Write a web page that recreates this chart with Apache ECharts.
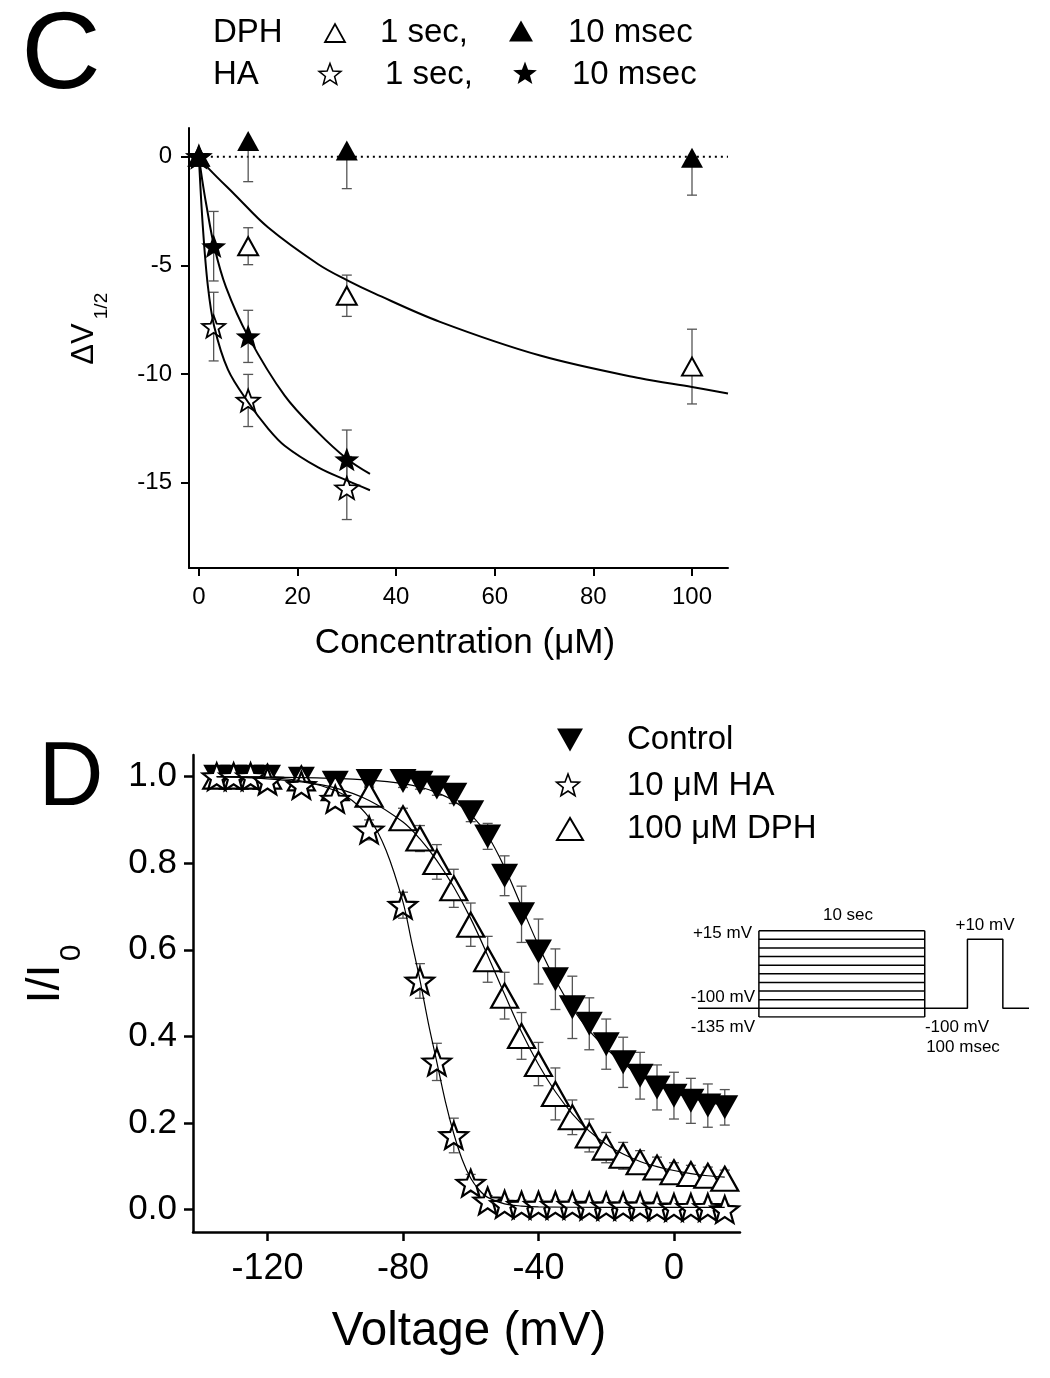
<!DOCTYPE html>
<html><head><meta charset="utf-8">
<script src="https://cdn.jsdelivr.net/npm/echarts@6/dist/echarts.min.js"></script>
<style>html,body{margin:0;padding:0;background:#fff}#chart{width:1050px;height:1378px}</style>
</head><body><div id="chart"></div>
<script>
// ---------- Panel C data (ΔV1/2 vs concentration) ----------
const concDPH = [0, 10, 30, 100];
const dph1sMean = [0, -4.12, -6.40, -9.66];
const dph1sErr = [0, 0.85, 0.95, 1.72];
const dph10msMean = [0, 0.72, 0.28, -0.05];
const dph10msErrDown = [0, 1.87, 1.75, 1.72];
const concHA = [0, 3, 10, 30];
const ha1sMean = [0, -7.82, -11.22, -15.25];
const ha1sErr = [0, 1.58, 1.2, 1.45];
const ha10msMean = [0, -4.12, -8.27, -13.93];
const ha10msErr = [0, 1.6, 1.2, 1.35];
// fitted curves
const dphFitX = [0, 2, 7.3, 14, 24.2, 30, 35.7, 48.9, 69.2, 89.5, 100, 107.3];
const dphFitY = [0, -0.55, -1.75, -3.25, -4.95, -5.68, -6.3, -7.6, -9.15, -10.2, -10.6, -10.9];
const ha10FitX = [0, 0.7, 1.5, 3.1, 5.5, 10, 17.4, 24.2, 30, 34.7];
const ha10FitY = [0, -1.1, -2.2, -4.12, -6.0, -8.27, -11.0, -12.7, -13.9, -14.6];
const ha1FitX = [0, 0.8, 1.8, 3.1, 5.9, 10, 14, 17.4, 24.2, 30, 34.7];
const ha1FitY = [0, -3.2, -5.9, -7.8, -9.8, -11.3, -12.5, -13.3, -14.3, -14.9, -15.35];
const zeroLineX = [0, 107.3];
const cTicksX = [0, 20, 40, 60, 80, 100];
const cTicksY = [0, -5, -10, -15];

// ---------- Panel D data (I/I0 vs voltage) ----------
const voltages = [-135,-130,-125,-120,-110,-100,-90,-80,-75,-70,-65,-60,-55,-50,-45,-40,-35,-30,-25,-20,-15,-10,-5,0,5,10,15];
const controlI = [1.0,1.0,1.0,1.0,0.995,0.986,0.99,0.99,0.986,0.975,0.958,0.918,0.862,0.771,0.682,0.596,0.532,0.467,0.429,0.382,0.34,0.309,0.282,0.263,0.251,0.24,0.236];
const controlErr = [0.01,0.01,0.01,0.012,0.012,0.015,0.015,0.015,0.015,0.018,0.02,0.022,0.03,0.046,0.065,0.075,0.07,0.072,0.06,0.058,0.058,0.054,0.052,0.054,0.052,0.05,0.041];
const haI = [1.0,1.0,1.0,0.99,0.98,0.948,0.877,0.703,0.528,0.341,0.171,0.061,0.02,0.012,0.01,0.01,0.01,0.01,0.008,0.008,0.008,0.008,0.006,0.005,0.005,0.005,0.0];
const haErr = [0.01,0.01,0.01,0.012,0.015,0.02,0.023,0.03,0.04,0.043,0.04,0.02,0.012,0.012,0.012,0.012,0.012,0.012,0.012,0.012,0.012,0.012,0.012,0.012,0.012,0.012,0.012];
const dphI = [1.0,1.0,1.0,1.0,0.996,0.973,0.958,0.904,0.857,0.803,0.742,0.658,0.578,0.494,0.401,0.336,0.267,0.213,0.171,0.143,0.124,0.109,0.097,0.086,0.082,0.078,0.071];
const dphErr = [0.01,0.01,0.01,0.01,0.01,0.015,0.02,0.023,0.03,0.04,0.044,0.05,0.053,0.054,0.054,0.05,0.06,0.04,0.038,0.035,0.031,0.027,0.024,0.022,0.02,0.02,0.02];
// fitted curves
const haFitV = [-135,-120,-110,-100,-95,-90,-85,-80,-77.5,-75,-72.5,-70,-67.5,-65,-62.5,-60,-57.5,-55,-50,-45,-40,-20,0,15];
const haFitI = [1.0,0.998,0.99,0.968,0.945,0.905,0.83,0.71,0.62,0.53,0.43,0.34,0.25,0.175,0.115,0.072,0.045,0.028,0.013,0.008,0.006,0.005,0.005,0.005];
const ctrlFitV = [-135,-120,-100,-90,-80,-75,-70,-65,-60,-55,-50,-45,-40,-35,-30,-25,-20,-15,-10,-5,0,5,10,15];
const ctrlFitI = [1.0,0.999,0.996,0.992,0.984,0.976,0.963,0.944,0.913,0.864,0.79,0.70,0.61,0.53,0.465,0.413,0.372,0.338,0.31,0.288,0.27,0.258,0.248,0.241];
const dphFitV = [-135,-120,-110,-100,-90,-80,-75,-70,-65,-60,-55,-50,-45,-40,-35,-30,-25,-20,-15,-10,-5,0,5,10,15];
const dphFitI = [1.0,0.995,0.988,0.974,0.945,0.895,0.856,0.806,0.745,0.672,0.587,0.497,0.41,0.335,0.272,0.221,0.181,0.151,0.128,0.111,0.099,0.09,0.083,0.078,0.075];
const dTicksX = [-120, -80, -40, 0];
const dTicksY = [0, 0.2, 0.4, 0.6, 0.8, 1.0];

// ---------- Inset protocol (schematic units) ----------
const protoLevels = [15, 0, -15, -30, -45, -60, -75, -90, -105, -120, -135];
const protoHoldDrawn = -120;   // labelled -100 mV
const protoPulseDrawn = 0;     // labelled +10 mV
const protoT = {start: 0, stepOn: 18.4, stepOff: 68.5, pulseOn: 81.4, pulseOff: 92.1, end: 100};

const FONT = 'Liberation Sans';
const starPath = 'path://M0,-100L24.7,-34L95.1,-30.9L39.9,13L58.8,80.9L0,42L-58.8,80.9L-39.9,13L-95.1,-30.9L-24.7,-34Z';
const zip = (a, b) => a.map((v, i) => [v, b[i]]);

function errSeries(xs, means, lo, hi, gi, capW, lw) {
  const data = [];
  xs.forEach((x, i) => {
    if (lo[i] > 0 || hi[i] > 0) data.push([x, means[i] - lo[i], means[i] + hi[i], lo[i] > 0 ? 1 : 0, hi[i] > 0 ? 1 : 0]);
  });
  return {
    type: 'custom', xAxisIndex: gi, yAxisIndex: gi, z: 2, silent: true,
    encode: {x: 0, y: [1, 2]}, data,
    renderItem(params, api) {
      const x = api.value(0);
      const p1 = api.coord([x, api.value(1)]), p2 = api.coord([x, api.value(2)]);
      const st = {stroke: '#555', lineWidth: lw, fill: null};
      const ch = [{type: 'line', shape: {x1: p1[0], y1: p1[1], x2: p2[0], y2: p2[1]}, style: st}];
      if (api.value(3)) ch.push({type: 'line', shape: {x1: p1[0] - capW / 2, y1: p1[1], x2: p1[0] + capW / 2, y2: p1[1]}, style: st});
      if (api.value(4)) ch.push({type: 'line', shape: {x1: p2[0] - capW / 2, y1: p2[1], x2: p2[0] + capW / 2, y2: p2[1]}, style: st});
      return {type: 'group', children: ch};
    }
  };
}
const sym = (arr, v) => arr.map(() => v);

function scatter(xs, ys, gi, symbol, size, fill, bw, rot) {
  return {type: 'scatter', xAxisIndex: gi, yAxisIndex: gi, z: 3, data: zip(xs, ys),
    symbol, symbolSize: size, symbolKeepAspect: true, symbolRotate: rot || 0,
    itemStyle: {color: fill, borderColor: '#000', borderWidth: bw, opacity: 1}, silent: true};
}
function fitLine(xs, ys, gi, w) {
  return {type: 'line', xAxisIndex: gi, yAxisIndex: gi, z: 4, data: zip(xs, ys), smooth: 0.35,
    showSymbol: false, lineStyle: {color: '#000', width: w}, silent: true};
}
function seg(x1, y1, x2, y2) {
  return {type: 'line', xAxisIndex: 2, yAxisIndex: 2, data: [[x1, y1], [x2, y2]], showSymbol: false,
    lineStyle: {color: '#000', width: 1.5}, silent: true, z: 3};
}

const series = [];
// Panel C
series.push({type: 'line', xAxisIndex: 0, yAxisIndex: 0, data: zeroLineX.map(x => [x, 0]), showSymbol: false,
  lineStyle: {color: '#000', width: 2, type: [2, 4]}, silent: true, z: 1});
series.push(errSeries(concDPH, dph1sMean, dph1sErr, dph1sErr, 0, 10, 1.3));
series.push(errSeries(concDPH, dph10msMean, dph10msErrDown, sym(concDPH, 0), 0, 10, 1.3));
series.push(errSeries(concHA, ha1sMean, ha1sErr, ha1sErr, 0, 10, 1.3));
series.push(errSeries(concHA, ha10msMean, ha10msErr, ha10msErr, 0, 10, 1.3));
series.push(fitLine(dphFitX, dphFitY, 0, 2));
series.push(fitLine(ha10FitX, ha10FitY, 0, 2));
series.push(fitLine(ha1FitX, ha1FitY, 0, 2));
series.push(scatter(concDPH, dph1sMean, 0, 'triangle', [20, 18], '#fff', 2));
series.push(scatter(concDPH, dph10msMean, 0, 'triangle', [22, 20], '#000', 0));
series.push(scatter(concHA, ha1sMean, 0, starPath, 23, '#fff', 1.8));
series.push(scatter(concHA, ha10msMean, 0, starPath, 25, '#000', 0));
// Panel D
series.push(errSeries(voltages, controlI, controlErr, controlErr, 1, 10, 1.3));
series.push(errSeries(voltages, dphI, dphErr, dphErr, 1, 10, 1.3));
series.push(errSeries(voltages, haI, haErr, haErr, 1, 10, 1.3));
series.push(scatter(voltages, controlI, 1, 'triangle', [27, 24], '#000', 0, 180));
series.push(scatter(voltages, dphI, 1, 'triangle', [27, 24], '#fff', 2.2));
series.push(scatter(voltages, haI, 1, starPath, 28, '#fff', 2.2));
series.push(fitLine(ctrlFitV, ctrlFitI, 1, 1.2));
series.push(fitLine(dphFitV, dphFitI, 1, 1.2));
series.push(fitLine(haFitV, haFitI, 1, 1.2));
// Inset protocol
protoLevels.forEach(L => series.push(seg(protoT.stepOn, L, protoT.stepOff, L)));
const topL = Math.max(...protoLevels), botL = Math.min(...protoLevels);
series.push(seg(protoT.stepOn, botL, protoT.stepOn, topL));
series.push(seg(protoT.stepOff, botL, protoT.stepOff, topL));
series.push(seg(protoT.start, protoHoldDrawn, protoT.stepOn, protoHoldDrawn));
series.push({type: 'line', xAxisIndex: 2, yAxisIndex: 2, showSymbol: false, silent: true, z: 3,
  lineStyle: {color: '#000', width: 1.5},
  data: [[protoT.stepOff, protoHoldDrawn], [protoT.pulseOn, protoHoldDrawn], [protoT.pulseOn, protoPulseDrawn],
         [protoT.pulseOff, protoPulseDrawn], [protoT.pulseOff, protoHoldDrawn], [protoT.end, protoHoldDrawn]]});

function axisBase(min, max, ticks, fs, lw, tickLen, margin, fmt) {
  return {type: 'value', min, max, splitLine: {show: false},
    axisLine: {show: true, onZero: false, lineStyle: {color: '#000', width: lw}},
    axisTick: {show: true, length: tickLen, customValues: ticks, lineStyle: {color: '#000', width: lw}},
    axisLabel: {customValues: ticks, fontSize: fs, fontFamily: FONT, color: '#000', margin, formatter: fmt}};
}
const xAxis = [
  Object.assign(axisBase(-2, 107.3, cTicksX, 24, 2, 8, 17), {gridIndex: 0}),
  Object.assign(axisBase(-142, 19.5, dTicksX, 36, 2.5, 9, 19), {gridIndex: 1}),
  {gridIndex: 2, type: 'value', min: 0, max: 100, show: false}
];
const yAxis = [
  Object.assign(axisBase(-18.93, 1.32, cTicksY, 24, 2, 8, 17), {gridIndex: 0}),
  Object.assign(axisBase(-0.052, 1.05, dTicksY, 35, 2.5, 9, 16, v => v.toFixed(1)), {gridIndex: 1}),
  {gridIndex: 2, type: 'value', min: -135, max: 15, show: false}
];

function txt(x, y, s, fs, align, opts) {
  return Object.assign({type: 'text', x, y, silent: true, z: 10,
    style: {text: s, fontSize: fs, fontFamily: FONT, fill: '#000', align: align || 'left', verticalAlign: 'middle'}}, opts || {});
}
function triPts(cx, cy, w, h, down) {
  return down ? [[cx - w / 2, cy - h / 2], [cx + w / 2, cy - h / 2], [cx, cy + h / 2]]
              : [[cx - w / 2, cy + h / 2], [cx + w / 2, cy + h / 2], [cx, cy - h / 2]];
}
function starPts(cx, cy, r) {
  const p = [];
  for (let k = 0; k < 10; k++) {
    const a = -Math.PI / 2 + k * Math.PI / 5, rr = k % 2 ? r * 0.42 : r;
    p.push([cx + rr * Math.cos(a), cy + rr * Math.sin(a)]);
  }
  return p;
}
function poly(points, fill, lw) {
  return {type: 'polygon', shape: {points}, silent: true, z: 10,
    style: {fill, stroke: '#000', lineWidth: lw}};
}

const graphic = [
  txt(61, 58, 'C', 110, 'center'),
  txt(213, 33, 'DPH', 33), poly(triPts(335, 33, 20, 18), '#fff', 1.8), txt(380, 33, '1 sec,', 33),
  poly(triPts(521, 31, 24, 21), '#000', 0), txt(568, 33, '10 msec', 33),
  txt(213, 75, 'HA', 33), poly(starPts(330, 75, 11.5), '#fff', 1.5), txt(385, 75, '1 sec,', 33),
  poly(starPts(525, 74, 12.5), '#000', 0), txt(572, 75, '10 msec', 33),
  txt(465, 643, 'Concentration (μM)', 35, 'center'),
  txt(84, 344, 'ΔV', 31, 'center', {rotation: Math.PI / 2}),
  txt(102, 306, '1/2', 19, 'center', {rotation: Math.PI / 2}),
  txt(71, 780, 'D', 90, 'center'),
  poly(triPts(570, 740, 26, 23, true), '#000', 0), txt(627, 740, 'Control', 33),
  poly(starPts(568, 786, 12), '#fff', 1.6), txt(627, 786, '10 μM HA', 33),
  poly(triPts(570, 829, 26, 22), '#fff', 2), txt(627, 829, '100 μM DPH', 33),
  txt(469, 1332, 'Voltage (mV)', 47.5, 'center'),
  txt(46, 984, 'I/I', 47, 'center', {rotation: Math.PI / 2}),
  txt(72, 953, '0', 30, 'center', {rotation: Math.PI / 2}),
  txt(752, 933, '+15 mV', 17, 'right'),
  txt(755, 997, '-100 mV', 17, 'right'),
  txt(755, 1027, '-135 mV', 17, 'right'),
  txt(848, 915, '10 sec', 17, 'center'),
  txt(985, 925, '+10 mV', 17, 'center'),
  txt(957, 1027, '-100 mV', 17, 'center'),
  txt(963, 1047, '100 msec', 17, 'center')
];

const chart = echarts.init(document.getElementById('chart'), null, {renderer: 'canvas'});
chart.setOption({
  animation: false,
  backgroundColor: '#fff',
  grid: [
    {left: 189, top: 128, width: 539, height: 440},
    {left: 193, top: 755, width: 547, height: 477},
    {left: 698, top: 930.7, width: 331, height: 86.3}
  ],
  xAxis, yAxis, series, graphic
});
</script></body></html>
